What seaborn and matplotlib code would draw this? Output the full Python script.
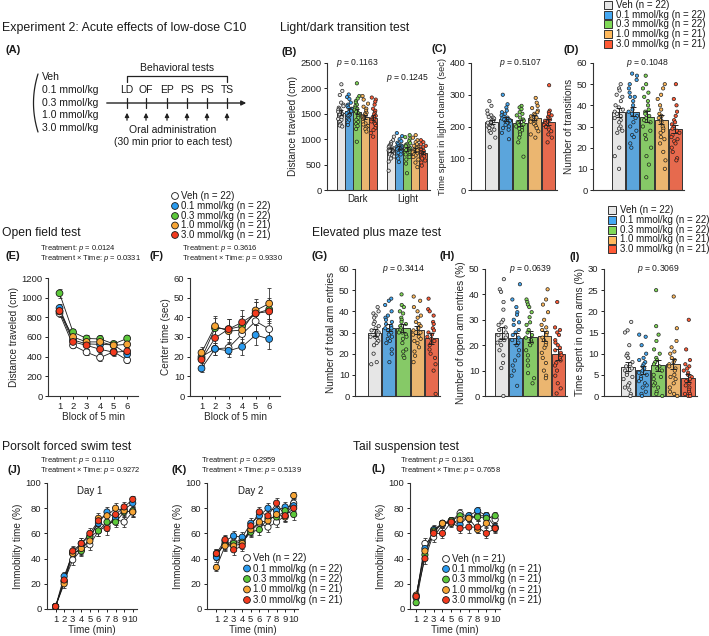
import numpy as np
import pandas as pd
import matplotlib
matplotlib.use('Agg')
import matplotlib.pyplot as plt
import seaborn as sns
from matplotlib.patches import Rectangle

# groups
doses = ['Veh', '0.1 mmol/kg', '0.3 mmol/kg', '1.0 mmol/kg', '3.0 mmol/kg']
n_main = [22, 22, 22, 21, 21]
n_tst = [21, 21, 21, 21, 21]
bar_colors = ['#E6E6E6', '#45A8F2', '#80D957', '#FFB95C', '#FF5A35']
marker_colors = ['#FFFFFF', '#2A9BEF', '#5CC83A', '#F7A535', '#F23A1E']

# (B) light/dark test, distance traveled
b_phases = ['Dark', 'Light']
b_mean_dark = [1520, 1560, 1545, 1440, 1425]
b_sem_dark = [45, 50, 55, 45, 45]
b_mean_light = [790, 840, 805, 790, 730]
b_sem_light = [35, 30, 40, 35, 30]
b_dots_dark = [
    [2080, 1950, 1870, 1720, 1680, 1650, 1620, 1600, 1580, 1560, 1540, 1520, 1500, 1480, 1460, 1430, 1400, 1380, 1340, 1300, 1270, 1250],
    [1880, 1830, 1790, 1720, 1680, 1650, 1620, 1600, 1590, 1570, 1560, 1550, 1530, 1510, 1490, 1470, 1450, 1420, 1400, 1370, 1330, 1280],
    [2100, 1850, 1800, 1750, 1720, 1680, 1650, 1620, 1600, 1580, 1560, 1540, 1510, 1480, 1450, 1420, 1380, 1340, 1300, 1260, 1200, 950],
    [1850, 1780, 1700, 1640, 1600, 1560, 1520, 1500, 1470, 1450, 1430, 1410, 1390, 1370, 1340, 1310, 1290, 1260, 1230, 1200, 1150],
    [1820, 1780, 1740, 1680, 1600, 1560, 1520, 1490, 1460, 1440, 1420, 1400, 1380, 1350, 1320, 1300, 1260, 1220, 1180, 1120, 1050],
]
b_dots_light = [
    [1050, 980, 940, 900, 880, 860, 840, 820, 810, 800, 790, 780, 770, 760, 740, 720, 700, 680, 660, 620, 560, 380],
    [1120, 1060, 1000, 960, 930, 900, 880, 870, 860, 850, 840, 830, 810, 800, 790, 770, 750, 730, 700, 660, 620, 550],
    [1080, 1040, 1000, 960, 920, 900, 880, 860, 840, 820, 810, 800, 790, 770, 750, 730, 700, 680, 650, 600, 520, 330],
    [1080, 1030, 980, 940, 900, 870, 850, 830, 810, 800, 790, 780, 760, 740, 720, 700, 680, 650, 600, 540, 450],
    [980, 940, 900, 870, 840, 810, 790, 770, 750, 740, 730, 720, 710, 700, 680, 660, 640, 620, 580, 540, 480],
]

# (C) time in light chamber
c_mean = [215, 223, 211, 227, 215]
c_sem = [7, 7, 8, 8, 9]
c_dots = [
    [280, 265, 250, 240, 235, 230, 228, 225, 220, 218, 215, 212, 210, 205, 200, 198, 195, 190, 185, 180, 165, 135],
    [300, 270, 260, 250, 245, 240, 235, 230, 228, 225, 222, 220, 218, 215, 212, 210, 205, 200, 195, 190, 180, 160],
    [265, 260, 255, 245, 240, 235, 228, 222, 218, 214, 210, 207, 204, 200, 197, 193, 188, 182, 175, 165, 150, 105],
    [290, 275, 265, 258, 250, 245, 240, 235, 232, 228, 225, 222, 218, 215, 212, 208, 202, 195, 185, 175, 165],
    [330, 250, 245, 240, 235, 230, 225, 222, 218, 215, 212, 210, 205, 200, 198, 195, 190, 185, 175, 165, 150],
]

# (D) number of transitions
d_mean = [36.7, 37.0, 34.5, 33.3, 29.0]
d_sem = [2.0, 2.1, 2.6, 2.3, 1.9]
d_dots = [
    [50, 48, 47, 45, 44, 42, 40, 39, 38, 37, 36, 35, 34, 33, 32, 30, 29, 28, 27, 20, 16, 10],
    [55, 54, 52, 50, 48, 46, 44, 44, 42, 40, 38, 37, 36, 35, 34, 32, 30, 28, 26, 25, 22, 20],
    [54, 50, 48, 46, 44, 42, 40, 38, 37, 36, 35, 34, 33, 32, 30, 28, 26, 24, 20, 16, 12, 6],
    [50, 48, 45, 43, 40, 38, 36, 35, 34, 33, 32, 30, 29, 28, 27, 25, 24, 22, 18, 14, 10],
    [50, 43, 40, 37, 35, 33, 32, 31, 30, 29, 28, 27, 26, 25, 24, 23, 22, 20, 18, 15, 14],
]

# (E) open field distance, (F) center time
blocks = [1, 2, 3, 4, 5, 6]
e_mean = [
    [840, 515, 445, 390, 450, 365],
    [895, 570, 530, 525, 520, 425],
    [1045, 650, 585, 580, 530, 585],
    [860, 600, 550, 550, 515, 525],
    [865, 550, 515, 475, 445, 455],
]
e_sem = [
    [35, 30, 30, 35, 30, 25],
    [40, 35, 35, 40, 35, 35],
    [45, 35, 35, 40, 30, 35],
    [40, 35, 35, 40, 35, 40],
    [40, 35, 35, 40, 35, 40],
]
f_mean = [
    [20, 24, 24.5, 31.5, 38, 34],
    [14, 24, 23, 25, 31, 29],
    [19, 34.5, 34, 35.5, 42, 44],
    [22, 35.5, 33, 33.5, 43.5, 47],
    [18.5, 29.5, 34, 37.5, 42, 43],
]
f_sem = [
    [3, 3, 3, 4, 5, 5],
    [2, 3, 3, 4, 5, 5],
    [3, 5, 5, 5, 6, 6],
    [3, 5, 6, 7, 6, 8],
    [3, 4, 5, 6, 6, 6],
]

# (G) total arm entries, (H) open arm entries %, (I) time in open arms %
g_mean = [30.0, 32.3, 32.0, 31.2, 27.2]
g_sem = [1.7, 1.8, 1.8, 1.9, 2.4]
g_dots = [
    [42, 40, 39, 38, 37, 35, 34, 33, 32, 31, 30, 30, 29, 28, 28, 27, 26, 25, 24, 20, 16, 15],
    [46, 45, 43, 40, 38, 37, 36, 35, 34, 33, 32, 32, 31, 30, 29, 28, 27, 26, 25, 22, 20, 16],
    [48, 43, 42, 40, 39, 37, 36, 35, 34, 33, 32, 31, 30, 30, 29, 28, 27, 25, 22, 21, 19, 18],
    [47, 45, 42, 40, 38, 37, 35, 34, 33, 32, 31, 30, 29, 28, 27, 26, 25, 23, 21, 19, 16],
    [46, 41, 40, 38, 35, 34, 32, 31, 30, 29, 28, 27, 26, 25, 24, 22, 20, 18, 15, 12, 1],
]
h_mean = [24.9, 22.8, 23.3, 23.6, 16.4]
h_sem = [2.3, 2.2, 2.1, 2.1, 2.2]
h_dots = [
    [46, 42, 41, 37, 34, 30, 29, 28, 27, 26, 25, 24, 23, 22, 22, 21, 20, 18, 16, 13, 11, 0],
    [44, 38, 35, 33, 32, 30, 29, 28, 26, 25, 24, 23, 22, 21, 20, 18, 16, 14, 12, 10, 8, 4],
    [38, 37, 36, 35, 33, 31, 29, 28, 26, 25, 24, 23, 22, 21, 20, 18, 16, 14, 12, 9, 7, 5],
    [42, 38, 36, 33, 30, 28, 27, 26, 25, 24, 23, 22, 21, 20, 19, 17, 15, 13, 10, 8, 7],
    [37, 27, 26, 25, 24, 22, 21, 20, 19, 18, 17, 16, 15, 14, 13, 12, 10, 8, 5, 3, 1],
]
i_mean = [6.9, 6.2, 7.3, 7.6, 4.3]
i_sem = [1.1, 1.0, 1.3, 1.2, 1.0]
i_dots = [
    [17.5, 15.5, 15, 12, 10, 9.5, 9, 8, 7.5, 7, 6.5, 6, 5.5, 5, 4.5, 4, 3, 2.5, 2, 1.5, 0.5, 0],
    [14.5, 14, 12, 10, 9, 8.5, 8, 7.5, 7, 6.5, 6, 5.5, 5, 4.5, 4, 3.5, 3, 2.5, 2, 1, 0.5, 0],
    [25, 16.5, 14.5, 13, 11, 10, 9, 8.5, 8, 7.5, 7, 6.5, 6, 5, 4.5, 4, 3, 2.5, 2, 1, 0.5, 0],
    [23.5, 16, 13, 11.5, 10.5, 10, 9, 8.5, 8, 7.5, 7, 6.5, 6, 5, 4.5, 4, 3, 2, 1, 0.5, 0],
    [18, 11, 8.5, 7.5, 7, 6.5, 6, 5.5, 5, 4.5, 4, 3.5, 3, 2.5, 2, 1.5, 1, 0.5, 0.5, 0, 0],
]

# (J) FST day 1, (K) FST day 2, (L) TST
minutes = [1, 2, 3, 4, 5, 6, 7, 8, 9, 10]
j_mean = [
    [2, 22, 39, 47, 51, 62, 66, 71, 69, 77],
    [2, 26, 44, 52, 58, 68, 77, 72, 79, 84],
    [2, 22, 45, 46, 57, 62, 69, 69, 77, 78],
    [2, 20, 44, 48, 54, 72, 74, 80, 78, 77],
    [2, 23, 46, 52, 60, 70, 64, 75, 81, 87],
]
j_sem = [
    [1, 3, 4, 4, 4, 4, 4, 4, 4, 4],
    [1, 3, 4, 4, 4, 4, 4, 4, 4, 4],
    [1, 3, 4, 4, 4, 4, 4, 4, 4, 4],
    [1, 3, 4, 4, 4, 4, 4, 4, 4, 4],
    [1, 3, 4, 4, 4, 4, 5, 4, 4, 3],
]
k_mean = [
    [43, 52, 53, 55, 62, 68, 65, 69, 74, 84],
    [41, 54, 58, 57, 68, 74, 80, 78, 81, 82],
    [44, 51, 52, 53, 61, 63, 72, 73, 78, 75],
    [33, 50, 50, 52, 63, 69, 70, 75, 73, 90],
    [44, 55, 47, 50, 66, 77, 74, 84, 74, 80],
]
k_sem = [
    [4, 4, 4, 4, 4, 4, 4, 4, 4, 4],
    [4, 4, 4, 4, 4, 4, 4, 4, 4, 4],
    [4, 4, 4, 4, 4, 4, 4, 4, 4, 4],
    [3, 4, 4, 4, 4, 4, 4, 4, 4, 3],
    [4, 4, 4, 4, 4, 4, 4, 4, 4, 4],
]
l_mean = [
    [9, 52, 57, 67, 70, 76, 73, 74, 74, 71],
    [10, 48, 63, 68, 70, 67, 74, 78, 74, 65],
    [5, 43, 62, 68, 70, 74, 72, 73, 72, 74],
    [11, 46, 61, 68, 68, 71, 72, 63, 68, 64],
    [10, 40, 60, 60, 69, 64, 65, 65, 60, 64],
]
l_sem = [
    [2, 4, 4, 3, 3, 3, 3, 3, 3, 3],
    [2, 4, 4, 3, 3, 3, 3, 3, 3, 3],
    [2, 4, 4, 3, 3, 3, 3, 3, 3, 3],
    [2, 4, 4, 3, 3, 3, 3, 3, 3, 3],
    [2, 4, 4, 4, 3, 4, 5, 5, 4, 4],
]

sns.set_theme(style='ticks')
plt.rcParams['font.family'] = ['Liberation Sans', 'DejaVu Sans']
plt.rcParams['mathtext.fontset'] = 'custom'
plt.rcParams['mathtext.rm'] = 'Liberation Sans'
plt.rcParams['mathtext.it'] = 'Liberation Sans:italic'
plt.rcParams['axes.linewidth'] = 0.8
plt.rcParams['axes.edgecolor'] = '#333333'
plt.rcParams['text.color'] = '#1a1a1a'
np.random.seed(3)  # only for strip jitter

W, H = 709, 636
fig = plt.figure(figsize=(W / 100, H / 100), dpi=100)

# overlay in pixel coordinates for titles, labels, schematic and legends
ov = fig.add_axes([0, 0, 1, 1], zorder=10)
ov.set_xlim(0, W)
ov.set_ylim(H, 0)
ov.axis('off')
ov.patch.set_alpha(0)

LAB = 7.2   # axis label size
ANN = 5.4   # two-line stats annotation size


def txt(x, y, s, size=7, **kw):
    kw.setdefault('va', 'center')
    ov.text(x, y, s, fontsize=size, **kw)


def panel(x, y, s):
    txt(x, y, s, 8, fontweight='bold')


def stats(x, y, treat, inter):
    txt(x, y, f'Treatment: $p$ = {treat}', ANN)
    txt(x, y + 9.5, f'Treatment × Time: $p$ = {inter}', ANN)


def px_axes(x0, y0, x1, y1):
    ax = fig.add_axes([x0 / W, 1 - y1 / H, (x1 - x0) / W, (y1 - y0) / H])
    ax.set_facecolor('none')
    return ax


def style_ax(ax, ymax, ystep, ylabel, lab=LAB):
    sns.despine(ax=ax)
    ax.set_ylim(0, ymax)
    ax.set_yticks(np.arange(0, ymax + ystep / 2, ystep))
    ax.set_ylabel(ylabel, fontsize=lab, labelpad=2)
    ax.tick_params(axis='both', length=2.5, width=0.7, labelsize=6.8, pad=1.5, colors='#222222')


def bar_panel(box, xlim, means, sems, dots, ymax, ystep, ylabel, ptext, lab=LAB):
    ax = px_axes(*box)
    bars = pd.DataFrame({'dose': doses, 'value': means})
    sns.barplot(data=bars, x='dose', y='value', hue='dose', palette=bar_colors, width=0.93,
                edgecolor='#333333', linewidth=0.7, errorbar=None, legend=False, ax=ax)
    pts = pd.DataFrame({'dose': np.repeat(doses, [len(d) for d in dots]),
                        'value': np.concatenate(dots)})
    sns.stripplot(data=pts, x='dose', y='value', hue='dose', palette=bar_colors, jitter=0.3,
                  size=2.4, edgecolor='#222222', linewidth=0.5, legend=False, ax=ax,
                  zorder=3, clip_on=False)
    ax.errorbar(np.arange(5), means, yerr=sems, fmt='none', ecolor='#222222',
                elinewidth=0.7, capsize=2, capthick=0.7, zorder=4)
    style_ax(ax, ymax, ystep, ylabel, lab)
    ax.set_xlim(*xlim)
    ax.set_xticks([])
    ax.set_xlabel('')
    ax.text(2, ymax, ptext, ha='center', va='center', fontsize=6.2, clip_on=False)
    return ax


def line_panel(box, xs, xlim, means, sems, ymax, ystep, ylabel, xlabel, msize):
    ax = px_axes(*box)
    n = len(xs)
    df = pd.DataFrame({'dose': np.repeat(doses, n), 'x': np.tile(xs, len(doses)),
                       'mean': np.concatenate(means), 'sem': np.concatenate(sems)})
    for d in doses:
        sub = df[df['dose'] == d]
        ax.errorbar(sub['x'], sub['mean'], yerr=sub['sem'], fmt='none', ecolor='#333333',
                    elinewidth=0.6, capsize=1.2, capthick=0.6, zorder=1)
    sns.lineplot(data=df, x='x', y='mean', hue='dose', palette=['#1a1a1a'] * 5, linewidth=0.6,
                 errorbar=None, legend=False, ax=ax, zorder=2)
    sns.scatterplot(data=df, x='x', y='mean', hue='dose', palette=marker_colors, s=msize,
                    edgecolor='#1a1a1a', linewidth=0.6, legend=False, ax=ax, zorder=3,
                    clip_on=False)
    style_ax(ax, ymax, ystep, ylabel)
    ax.set_xlim(*xlim)
    ax.set_xticks(xs)
    ax.set_xlabel(xlabel, fontsize=LAB, labelpad=1)
    return ax


def legend_squares(x, rows, ns):
    for yy, d, n, c in zip(rows, doses, ns, bar_colors):
        ov.add_patch(Rectangle((x - 4, yy - 4), 8, 8, facecolor=c, edgecolor='#333333', lw=0.7))
        txt(x + 8, yy, f'{d} (n = {n})', 7)


def legend_circles(x, rows, ns):
    ov.scatter([x] * 5, rows, s=24, c=marker_colors, edgecolors='#1a1a1a', linewidths=0.6)
    for yy, d, n in zip(rows, doses, ns):
        txt(x + 6, yy, f'{d} (n = {n})', 7)


# ---- (A) schematic ----
txt(2, 28, 'Experiment 2: Acute effects of low-dose C10', 8.9)
panel(5, 50, '(A)')
yy = np.linspace(74, 132, 40)
ov.plot(38 - 4.5 * (1 - ((yy - 103) / 29) ** 2), yy, color='#222222', lw=0.9)
for yv, d in zip([77, 90, 102.5, 115, 128], doses):
    txt(42, yv, d, 7.5)
ov.annotate('', xy=(249, 103), xytext=(104, 103),
            arrowprops=dict(arrowstyle='-|>', lw=1.0, color='#222222', mutation_scale=7))
test_x = [127, 146, 167, 187, 207, 227]
for xv, lab in zip(test_x, ['LD', 'OF', 'EP', 'PS', 'PS', 'TS']):
    txt(xv, 90, lab, 7.5, ha='center')
    ov.plot([xv, xv], [98, 108], color='#222222', lw=0.9)
    ov.annotate('', xy=(xv, 110), xytext=(xv, 123),
                arrowprops=dict(arrowstyle='-|>', lw=0.9, color='#222222', mutation_scale=6))
ov.plot([127, 127, 227, 227], [82, 76, 76, 82], color='#222222', lw=0.9)
txt(177, 68, 'Behavioral tests', 7.5, ha='center')
txt(173, 130, 'Oral administration', 7.5, ha='center')
txt(173, 142, '(30 min prior to each test)', 7.5, ha='center')

# ---- (B) ----
txt(280, 28, 'Light/dark transition test', 8.7)
panel(282, 52, '(B)')
axb = px_axes(327, 63, 430, 190)
dfb = pd.DataFrame({'phase': np.repeat(b_phases, 5), 'dose': doses * 2,
                    'value': b_mean_dark + b_mean_light})
sns.barplot(data=dfb, x='phase', y='value', hue='dose', palette=bar_colors, width=0.8, gap=0,
            edgecolor='#333333', linewidth=0.7, errorbar=None, legend=False, ax=axb)
ptsb = pd.DataFrame({
    'phase': ['Dark'] * sum(len(d) for d in b_dots_dark) + ['Light'] * sum(len(d) for d in b_dots_light),
    'dose': list(np.repeat(doses, [len(d) for d in b_dots_dark])) + list(np.repeat(doses, [len(d) for d in b_dots_light])),
    'value': np.concatenate(b_dots_dark + b_dots_light)})
sns.stripplot(data=ptsb, x='phase', y='value', hue='dose', hue_order=doses, dodge=True,
              palette=bar_colors, jitter=0.3, size=2.4, edgecolor='#222222', linewidth=0.5,
              legend=False, ax=axb, zorder=3, clip_on=False)
centres = sorted((p.get_x() + p.get_width() / 2, p.get_height()) for p in axb.patches)
axb.errorbar([c[0] for c in centres], [c[1] for c in centres], yerr=b_sem_dark + b_sem_light,
             fmt='none', ecolor='#222222', elinewidth=0.7, capsize=1.5, capthick=0.7, zorder=4)
style_ax(axb, 2500, 500, 'Distance traveled (cm)')
axb.set_xlim(-0.6, 1.45)
axb.set_xlabel('')
axb.tick_params(axis='x', length=0, pad=3, labelsize=7)
axb.text(0, 2500, '$p$ = 0.1163', ha='center', va='center', fontsize=6.2, clip_on=False)
axb.text(1, 2200, '$p$ = 0.1245', ha='center', va='center', fontsize=6.2, clip_on=False)

# ---- (C), (D) ----
panel(431, 49, '(C)')
bar_panel((471, 63, 557, 190), (-1.45, 4.6), c_mean, c_sem, c_dots, 400, 100,
          'Time spent in light chamber (sec)', '$p$ = 0.5107', lab=6.7)
panel(563, 50, '(D)')
bar_panel((593, 63, 684, 190), (-1.8, 4.6), d_mean, d_sem, d_dots, 60, 10,
          'Number of transitions', '$p$ = 0.1048')
legend_squares(608, [5, 14.5, 24, 34, 44], n_main)

# ---- (E), (F) ----
txt(2, 233, 'Open field test', 8.7)
legend_circles(175, [196, 206, 216, 225.5, 235], n_main)
panel(5, 256, '(E)')
stats(40, 248.5, '0.0124', '0.0331')
line_panel((48, 278, 138, 396), blocks, (0.15, 6.8), e_mean, e_sem, 1200, 200,
           'Distance traveled (cm)', 'Block of 5 min', 24)
panel(150, 256, '(F)')
stats(182, 248.5, '0.3616', '0.9330')
line_panel((190, 278, 280, 396), blocks, (0.15, 6.8), f_mean, f_sem, 60, 10,
           'Center time (sec)', 'Block of 5 min', 24)

# ---- (G), (H), (I) ----
txt(312, 233, 'Elevated plus maze test', 8.7)
panel(312, 256, '(G)')
bar_panel((355, 269, 440, 396), (-1.38, 4.6), g_mean, g_sem, g_dots, 60, 10,
          'Number of total arm entries', '$p$ = 0.3414')
panel(439, 256, '(H)')
bar_panel((485, 269, 567, 396), (-1.17, 4.6), h_mean, h_sem, h_dots, 50, 10,
          'Number of open arm entries (%)', '$p$ = 0.0639')
panel(570, 257, '(I)')
bar_panel((604, 269, 697, 396), (-1.6, 4.6), i_mean, i_sem, i_dots, 30, 5,
          'Time spent in open arms (%)', '$p$ = 0.3069')
legend_squares(612, [210, 220, 230, 239.5, 249], n_main)

# ---- (J), (K) ----
txt(2, 447, 'Porsolt forced swim test', 8.7)
panel(8, 470, '(J)')
stats(40, 461, '0.1110', '0.9272')
axj = line_panel((47, 483, 137, 609), minutes, (0.0, 10.5), j_mean, j_sem, 100, 20,
                 'Immobility time (%)', 'Time (min)', 20)
axj.text(5, 98, 'Day 1', ha='center', va='top', fontsize=7)
panel(172, 470, '(K)')
stats(201, 461, '0.2959', '0.5139')
axk = line_panel((207, 483, 298, 609), minutes, (-0.1, 10.5), k_mean, k_sem, 100, 20,
                 'Immobility time (%)', 'Time (min)', 20)
axk.text(5, 98, 'Day 2', ha='center', va='top', fontsize=7)
legend_circles(247, [558, 568.5, 579, 589.5, 600], n_main)

# ---- (L) ----
txt(353, 447, 'Tail suspension test', 8.7)
panel(372, 469, '(L)')
stats(400, 461, '0.1361', '0.7658')
line_panel((410, 483, 500, 609), minutes, (0.3, 10.55), l_mean, l_sem, 100, 20,
           'Immobility time (%)', 'Time (min)', 20)
legend_circles(446, [559, 569, 579.5, 590, 600], n_tst)

fig.savefig('out.png', dpi=100)
